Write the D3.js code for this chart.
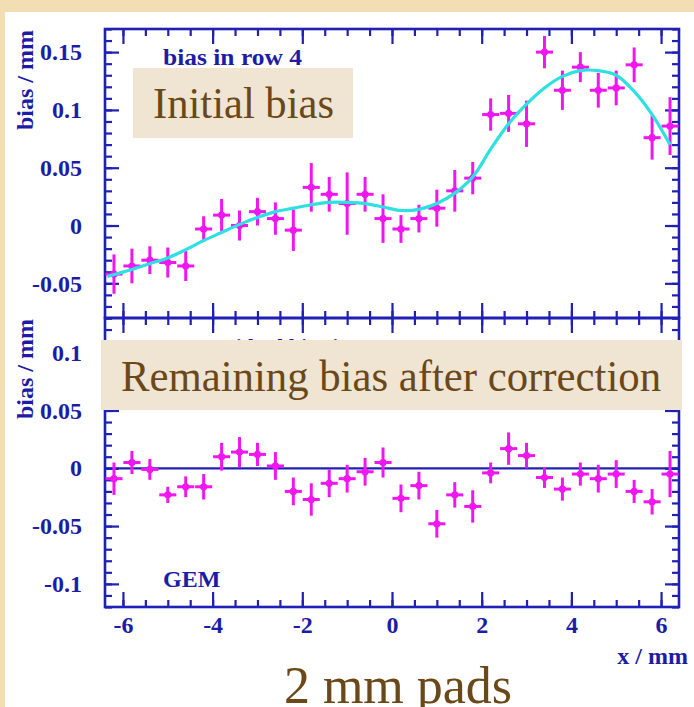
<!DOCTYPE html>
<html>
<head>
<meta charset="utf-8">
<script src="https://cdn.jsdelivr.net/npm/d3@7"></script>
<style>
  body { margin: 0; background: #f2deb2; }
  svg { display: block; }
</style>
</head>
<body>
<svg id="chart"></svg>
<script>
// pad centres along x (mm)
const xCenters = [-6.2, -5.8, -5.4, -5.0, -4.6, -4.2, -3.8, -3.4, -3.0, -2.6, -2.2, -1.8, -1.4, -1.0, -0.6, -0.2,
  0.2, 0.6, 1.0, 1.4, 1.8, 2.2, 2.6, 3.0, 3.4, 3.8, 4.2, 4.6, 5.0, 5.4, 5.8, 6.2];
const xHalfWidth = 0.19;

// initial bias (mm) and its errors
const biasBefore = [-0.042, -0.035, -0.030, -0.032, -0.035, -0.003, 0.009, 0.000, 0.012, 0.006, -0.004, 0.033,
  0.027, 0.019, 0.027, 0.006, -0.003, 0.006, 0.015, 0.030, 0.041, 0.096, 0.097, 0.088,
  0.150, 0.117, 0.137, 0.117, 0.119, 0.139, 0.076, 0.086];
const errBefore = [0.017, 0.015, 0.012, 0.013, 0.013, 0.011, 0.014, 0.013, 0.012, 0.014, 0.018, 0.021,
  0.015, 0.027, 0.015, 0.021, 0.012, 0.012, 0.016, 0.018, 0.014, 0.014, 0.016, 0.020,
  0.014, 0.017, 0.013, 0.015, 0.015, 0.015, 0.019, 0.025];

// remaining bias after correction
const biasAfter = [-0.009, 0.005, -0.001, -0.023, -0.016, -0.016, 0.010, 0.014, 0.012, 0.002, -0.020, -0.027,
  -0.013, -0.009, -0.003, 0.005, -0.026, -0.015, -0.048, -0.023, -0.033, -0.004, 0.017, 0.011,
  -0.008, -0.018, -0.005, -0.009, -0.005, -0.020, -0.029, -0.005];
const errAfter = [0.014, 0.010, 0.009, 0.007, 0.009, 0.011, 0.012, 0.013, 0.010, 0.012, 0.012, 0.014,
  0.012, 0.012, 0.012, 0.013, 0.012, 0.012, 0.012, 0.011, 0.014, 0.009, 0.014, 0.011,
  0.009, 0.010, 0.010, 0.012, 0.012, 0.010, 0.011, 0.020];

// fitted curve
const fitX = [-6.35, -5.8, -5.4, -5.0, -4.6, -4.2, -3.8, -3.4, -3.0, -2.6, -2.2, -1.8, -1.4, -1.0, -0.6, -0.2,
  0.2, 0.6, 1.0, 1.4, 1.8, 2.2, 2.6, 3.0, 3.4, 3.8, 4.2, 4.6, 5.0, 5.4, 5.8, 6.2];
const fitY = [-0.044, -0.038, -0.033, -0.028, -0.021, -0.013, -0.006, 0.001, 0.007, 0.012, 0.015, 0.018,
  0.020, 0.020, 0.019, 0.016, 0.013, 0.014, 0.019, 0.028, 0.042, 0.066, 0.088, 0.105,
  0.119, 0.129, 0.134, 0.134, 0.130, 0.116, 0.096, 0.070];

const xTicks = [-6, -4, -2, 0, 2, 4, 6];
const xMinor = [-6, -5.5, -5, -4.5, -4, -3.5, -3, -2.5, -2, -1.5, -1, -0.5, 0, 0.5, 1, 1.5, 2, 2.5, 3, 3.5, 4, 4.5, 5, 5.5, 6];
const yTicksTop = [-0.05, 0, 0.05, 0.1, 0.15];
const yTicksBottom = [-0.1, -0.05, 0, 0.05, 0.1];

const width = 694;
const height = 707;
const left = 105, right = 679;
const topY = 29, midY = 318, botY = 607;
const blue = '#2020b4';
const textBlue = '#1c1ca6';
const magenta = '#f016f0';
const brown = '#6b4818';
const serif = 'Liberation Serif, Times New Roman, serif';

const svg = d3.select('#chart').attr('width', width).attr('height', height);

// parchment and white page
svg.append('rect').attr('width', width).attr('height', height).attr('fill', '#f2deb2');
svg.append('rect').attr('x', 5).attr('y', 12).attr('width', width - 5).attr('height', height - 12).attr('fill', '#ffffff');

const x = d3.scaleLinear().domain([-6.4, 6.4]).range([left, right]);
const yTop = d3.scaleLinear().domain([-0.08, 0.17]).range([midY, topY]);
const yBot = d3.scaleLinear().domain([-0.12, 0.13]).range([botY, midY]);

const fmt = d => d === 0 ? '0' : String(d);

const drawPanel = (id, y, yTicks, y0, y1, showX) => {
  const g = svg.append('g');
  const clipId = 'clip-' + id;
  svg.append('clipPath').attr('id', clipId).append('rect')
    .attr('x', left).attr('y', y1).attr('width', right - left).attr('height', y0 - y1);

  const yMinor = d3.range(Math.round(y.domain()[0] * 100), Math.round(y.domain()[1] * 100) + 1).map(d => d / 100);

  // minor ticks
  g.append('g').attr('transform', `translate(${left},0)`)
    .call(d3.axisLeft(y).tickValues(yMinor).tickSize(-7).tickFormat(''));
  g.append('g').attr('transform', `translate(${right},0)`)
    .call(d3.axisRight(y).tickValues(yMinor).tickSize(-7).tickFormat(''));
  g.append('g').attr('transform', `translate(0,${y0})`)
    .call(d3.axisBottom(x).tickValues(xMinor).tickSize(-7).tickFormat(''));
  g.append('g').attr('transform', `translate(0,${y1})`)
    .call(d3.axisTop(x).tickValues(xMinor).tickSize(-7).tickFormat(''));

  // major ticks + labels
  g.append('g').attr('transform', `translate(${left},0)`)
    .call(d3.axisLeft(y).tickValues(yTicks).tickSize(-14).tickPadding(23).tickFormat(fmt));
  g.append('g').attr('transform', `translate(${right},0)`)
    .call(d3.axisRight(y).tickValues(yTicks).tickSize(-14).tickFormat(''));
  g.append('g').attr('transform', `translate(0,${y0})`)
    .call(d3.axisBottom(x).tickValues(xTicks).tickSize(-15).tickPadding(9).tickFormat(showX ? fmt : ''));
  g.append('g').attr('transform', `translate(0,${y1})`)
    .call(d3.axisTop(x).tickValues(xTicks).tickSize(-15).tickFormat(''));

  g.selectAll('.domain').remove();
  g.selectAll('.tick line').attr('stroke', blue).attr('stroke-width', 2.2);
  g.selectAll('.tick text')
    .attr('fill', textBlue)
    .attr('font-family', serif)
    .attr('font-weight', 'bold')
    .attr('font-size', 24);

  g.append('rect')
    .attr('x', left).attr('y', y1).attr('width', right - left).attr('height', y0 - y1)
    .attr('fill', 'none').attr('stroke', blue).attr('stroke-width', 2.6);

  return g.append('g').attr('clip-path', `url(#${clipId})`);
};

const drawPoints = (g, y, vals, errs) => {
  const pts = g.append('g');
  const data = xCenters.map((d, i) => ({ x: d, v: vals[i], e: errs[i] }));
  pts.selectAll('.ev').data(data).enter().append('line')
    .attr('x1', d => x(d.x)).attr('x2', d => x(d.x))
    .attr('y1', d => y(d.v - d.e)).attr('y2', d => y(d.v + d.e))
    .attr('stroke', magenta).attr('stroke-width', 3);
  pts.selectAll('.eh').data(data).enter().append('line')
    .attr('x1', d => x(d.x - xHalfWidth)).attr('x2', d => x(d.x + xHalfWidth))
    .attr('y1', d => y(d.v)).attr('y2', d => y(d.v))
    .attr('stroke', magenta).attr('stroke-width', 3);
  pts.selectAll('circle').data(data).enter().append('circle')
    .attr('cx', d => x(d.x)).attr('cy', d => y(d.v)).attr('r', 3.6)
    .attr('fill', magenta);
};

// ROOT-style texts
const rootText = (txt, tx, ty, anchor, rot) => svg.append('text')
  .attr('transform', `translate(${tx},${ty})` + (rot ? ` rotate(${rot})` : ''))
  .attr('text-anchor', anchor || 'start')
  .attr('fill', textBlue).attr('font-family', serif).attr('font-weight', 'bold').attr('font-size', 24)
  .text(txt);

// ---------- top panel ----------
const topG = drawPanel('top', yTop, yTicksTop, midY, topY, false);
drawPoints(topG, yTop, biasBefore, errBefore);
const fitLine = d3.line().x(d => x(d[0])).y(d => yTop(d[1])).curve(d3.curveCatmullRom.alpha(0.5));
topG.append('path')
  .datum(fitX.map((d, i) => [d, fitY[i]]))
  .attr('d', fitLine)
  .attr('fill', 'none').attr('stroke', '#2ee0e0').attr('stroke-width', 3.2);

// ---------- bottom panel ----------
const botG = drawPanel('bot', yBot, yTicksBottom, botY, midY, true);
botG.append('line')
  .attr('x1', left).attr('x2', right).attr('y1', yBot(0)).attr('y2', yBot(0))
  .attr('stroke', blue).attr('stroke-width', 2.2);
drawPoints(botG, yBot, biasAfter, errAfter);

rootText('bias in row 4', 163, 65).attr('font-size', 23).attr('textLength', 139).attr('lengthAdjust', 'spacingAndGlyphs');
rootText('residual bias in row 4', 208, 354).attr('font-size', 22);
rootText('GEM', 163, 587);
rootText('x / mm', 688, 664, 'end');
rootText('bias / mm', 33, topY + 1, 'end', -90);
rootText('bias / mm', 33, midY + 1, 'end', -90);

// slide overlays
const overlay = (txt, bx, by, bw, bh, tx, ty, tl) => {
  svg.append('rect').attr('x', bx).attr('y', by).attr('width', bw).attr('height', bh).attr('fill', '#f0e4d3');
  svg.append('text').attr('x', tx).attr('y', ty)
    .attr('font-family', serif).attr('font-size', 44)
    .attr('textLength', tl).attr('lengthAdjust', 'spacingAndGlyphs')
    .attr('fill', brown).text(txt);
};
overlay('Initial bias', 133, 68, 220, 70, 153, 118, 181);
overlay('Remaining bias after correction', 101, 340, 581, 70, 121, 391, 540);

svg.append('text').attr('x', 398).attr('y', 703).attr('text-anchor', 'middle')
  .attr('font-family', serif).attr('font-size', 52)
  .attr('fill', brown).text('2 mm pads');
</script>
</body>
</html>
